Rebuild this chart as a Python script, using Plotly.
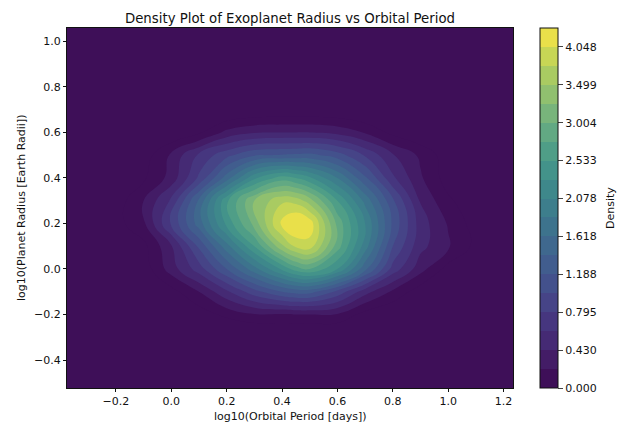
import numpy as np
import plotly.graph_objects as go

x_centers = [-0.38, -0.2, -0.1, 0.0, 0.1, 0.2, 0.3, 0.4, 0.45, 0.5, 0.6, 0.7, 0.8, 0.9, 1.0, 1.1, 1.24]
y_centers = [-0.53, -0.3, -0.2, -0.1, 0.0, 0.1, 0.2, 0.3, 0.4, 0.5, 0.6, 0.7, 0.8, 1.07]
# Density expressed as position on the contour ladder (0 = lowest level, 19 = highest)
density_rank = [
    [-4, -4, -4, -4, -4, -4, -4, -4, -4, -4, -4, -4, -4, -4, -4, -4, -4],
    [-4, -3, -3, -2.6, -2.2, -1.8, -1.5, -1.5, -1.5, -1.5, -1.5, -1.9, -2.4, -3, -3, -3, -4],
    [-4, -2, -2, -1.5, -0.6, 0.3, 0.9, 0.9, 1.0, 1.0, 0.9, -0.4, -1, -1.5, -2, -2, -4],
    [-4, -1.5, -1.2, -0.4, 1.0, 2.8, 4.6, 6.0, 6.4, 6.4, 4.7, 2.4, 0.8, -0.6, -1.2, -1.5, -4],
    [-4, -1, -0.6, 1.5, 3.5, 6.0, 8.6, 11.2, 12.5, 13, 11, 7.3, 3.6, 1.4, -0.4, -1, -4],
    [-4, -0.6, -0.3, 1.9, 5.2, 8.6, 12, 15.8, 17.2, 17.6, 13.5, 9.5, 5, 2.3, 1.15, -0.3, -4],
    [-4, -0.4, 0.8, 4.1, 7.5, 11.3, 14.4, 18.3, 19.3, 18.6, 13.7, 10, 5.8, 2.5, 0.9, -0.5, -4],
    [-4, -0.6, 1.0, 3.2, 7.2, 11.8, 15, 16.8, 16.6, 15.5, 12, 8.7, 5.2, 1.9, 0.2, -0.8, -4],
    [-4, -1, -0.2, 1.4, 4.2, 7.5, 10.8, 12.5, 12, 11.2, 9, 6.2, 3.2, 1.15, -0.5, -1, -4],
    [-4, -1, -0.6, 1.2, 3.2, 4.7, 5.9, 6.1, 6.2, 6.3, 5.5, 3.9, 2.1, 0.8, -0.6, -1, -4],
    [-4, -1.5, -1.5, -1, -0.2, 1.3, 1.9, 2.0, 2.0, 2.0, 1.7, 0.9, -0.3, -1, -1.5, -1.5, -4],
    [-4, -2, -2, -2, -1.8, -1.3, -1, -0.9, -0.9, -0.9, -1, -1.3, -1.8, -2, -2, -2, -4],
    [-4, -3, -3, -3, -3, -3, -3, -3, -3, -3, -3, -3, -3, -3, -3, -3, -4],
    [-4, -4, -4, -4, -4, -4, -4, -4, -4, -4, -4, -4, -4, -4, -4, -4, -4],
]
tick_labels = ["0.000", "0.430", "0.795", "1.188", "1.618", "2.078", "2.533", "3.004", "3.499", "4.048"]
band_colors = ["#3e0f58", "#431c66", "#452a74", "#46367f", "#464487", "#43518c", "#415d8e", "#3f688e",
               "#3d738d", "#3d7e8c", "#3e888b", "#43938a", "#4f9e87", "#62a983", "#78b47b", "#90c06f",
               "#a9cb62", "#c7d655", "#e9e04a"]

n = len(band_colors)
scale = [[0, band_colors[0]]]
for i, c in enumerate(band_colors):
    lo = max((i + 0.5) / n, 0)
    hi = min((i + 1.5) / n, 1)
    scale += [[lo, c], [hi, c]]
scale[0] = [0, band_colors[0]]

fig = go.Figure(go.Contour(
    x=x_centers, y=y_centers, z=density_rank,
    colorscale=scale, zmin=0, zmax=n, zauto=False,
    contours=dict(start=0, end=n - 1, size=1, coloring="fill", showlines=False),
    line=dict(smoothing=1.3, width=0),
    colorbar=dict(
        tickvals=list(range(0, n, 2)), ticktext=tick_labels,
        tickfont=dict(size=11, color="#111"), ticks="outside", ticklen=5, tickwidth=1,
        thickness=18, thicknessmode="pixels", len=360, lenmode="pixels",
        x=1.0605, xanchor="left", xpad=0, y=0, yanchor="bottom", ypad=0,
        outlinewidth=1, outlinecolor="#111",
    ),
))
axis = dict(showgrid=False, zeroline=False, showline=True, mirror=True, linecolor="#111", linewidth=1,
            ticks="outside", ticklen=3, tickwidth=1, tickcolor="#111", dtick=0.2, tickformat=".1f",
            tickfont=dict(size=11, color="#111"))
annotation_font = dict(size=11, color="#111")
fig.update_layout(
    width=628, height=423, margin=dict(l=59, r=123, t=20, b=43), paper_bgcolor="white",
    font=dict(family="DejaVu Sans", color="#111"),
    title=dict(text="Density Plot of Exoplanet Radius vs Orbital Period", font=dict(size=13.3, color="#111"),
               x=0.5, xref="paper", xanchor="center", y=0.975, yanchor="middle"),
    xaxis=dict(axis, range=[-0.3765, 1.234], tick0=0),
    yaxis=dict(axis, range=[-0.523, 1.059], tick0=0),
    annotations=[
        dict(text="Density", xref="paper", yref="paper", x=1.2175, y=0.5, showarrow=False,
             textangle=-90, xanchor="center", yanchor="middle", font=annotation_font),
        dict(text="log10(Orbital Period [days])", xref="paper", yref="paper", x=0.5, y=-0.0778, showarrow=False,
             xanchor="center", yanchor="middle", font=annotation_font),
        dict(text="log10(Planet Radius [Earth Radii])", xref="paper", yref="paper", x=-0.103, y=0.5, showarrow=False,
             textangle=-90, xanchor="center", yanchor="middle", font=annotation_font),
    ],
)
fig.write_html("out.html")
